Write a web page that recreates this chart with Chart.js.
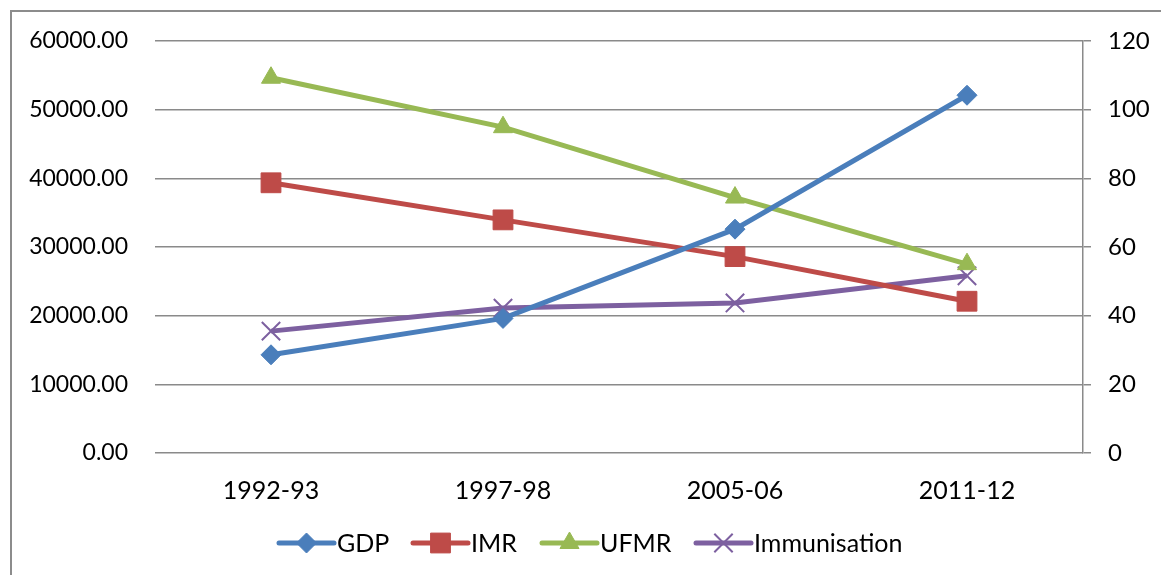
<!DOCTYPE html>
<html>
<head>
<meta charset="utf-8">
<script src="https://cdn.jsdelivr.net/npm/chart.js@4/dist/chart.umd.min.js"></script>
<style>
  html, body { margin: 0; padding: 0; background: #fff; }
  #wrap { width: 1161px; height: 575px; position: relative; }
</style>
</head>
<body>
<div id="wrap"><canvas id="chart" width="1161" height="575"></canvas></div>
<script>
// data
const years = ["1992-93", "1997-98", "2005-06", "2011-12"];
const gdp = [14300, 19600, 32600, 52100];
const imr = [78.7, 67.9, 57.2, 44.2];
const ufmr = [109.3, 94.9, 74.4, 55.0];
const immunisation = [35.5, 42.2, 43.7, 51.6];

const FONT = "Lato, 'Open Sans', sans-serif";
const GRID = "#8a8a8a";

// legend + outer frame, drawn by hand so each entry shows line and marker
const excelLegend = {
    id: "excelLegend",
    afterDraw(chart) {
        const ctx = chart.ctx;
        ctx.save();
        // frame (only left and top edges fall inside the picture)
        ctx.strokeStyle = "#8c8c8c";
        ctx.lineWidth = 2;
        ctx.beginPath();
        ctx.moveTo(11, 575);
        ctx.lineTo(11, 11);
        ctx.lineTo(1161, 11);
        ctx.stroke();

        const y = 543;
        const starts = [279, 413, 542, 696];
        ctx.font = "25px " + FONT;
        ctx.textBaseline = "middle";
        chart.data.datasets.forEach((ds, i) => {
            const x0 = starts[i];
            ctx.strokeStyle = ds.borderColor;
            ctx.lineWidth = 5;
            ctx.lineCap = "round";
            ctx.beginPath();
            ctx.moveTo(x0, y);
            ctx.lineTo(x0 + 55, y);
            ctx.stroke();
            ctx.lineCap = "butt";
            ctx.fillStyle = ds.pointBackgroundColor;
            ctx.strokeStyle = ds.pointBorderColor;
            ctx.lineWidth = ds.pointBorderWidth;
            Chart.helpers.drawPoint(ctx, {
                pointStyle: ds.pointStyle,
                radius: ds.pointRadius,
                borderWidth: ds.pointBorderWidth
            }, x0 + 27.5, y);
            ctx.fillStyle = "#000";
            ctx.fillText(ds.label, x0 + 58, y + 1);
        });
        ctx.restore();
    }
};

function series(label, data, color, style, radius, axis) {
    return {
        label, data,
        yAxisID: axis,
        borderColor: color,
        backgroundColor: color,
        borderWidth: 5,
        pointStyle: style,
        pointRadius: radius,
        pointHoverRadius: radius,
        pointBackgroundColor: color,
        pointBorderColor: color,
        pointBorderWidth: style === "crossRot" ? 2 : 1,
        tension: 0
    };
}

new Chart(document.getElementById("chart"), {
    type: "line",
    data: {
        labels: years,
        datasets: [
            series("GDP", gdp, "#4a7ebb", "rectRot", 10, "y"),
            series("IMR", imr, "#be4b48", "rect", 14, "y1"),
            series("UFMR", ufmr, "#98b954", "triangle", 11, "y1"),
            series("Immunisation", immunisation, "#7d60a0", "crossRot", 13, "y1")
        ]
    },
    options: {
        responsive: false,
        animation: false,
        layout: { padding: { top: 41, left: 0, right: 0, bottom: 0 } },
        plugins: { legend: { display: false }, tooltip: { enabled: false } },
        scales: {
            x: {
                offset: true,
                grid: { display: false },
                border: { display: false },
                ticks: { color: "#000", font: { family: FONT, size: 25 }, padding: 15 },
                afterFit(s) { s.height = 122; }
            },
            y: {
                position: "left",
                min: 0, max: 60000,
                grid: { color: GRID, lineWidth: 1.5, drawTicks: false },
                border: { display: false },
                ticks: {
                    stepSize: 10000,
                    color: "#000",
                    font: { family: FONT, size: 23 },
                    padding: 27,
                    callback: v => v.toFixed(2)
                },
                afterFit(s) { s.width = 155; }
            },
            y1: {
                position: "right",
                min: 0, max: 120,
                grid: { drawOnChartArea: false, color: GRID, lineWidth: 1.5, tickLength: 8 },
                border: { display: true, color: GRID, width: 1.5 },
                ticks: {
                    stepSize: 20,
                    color: "#000",
                    font: { family: FONT, size: 24 },
                    padding: 17
                },
                afterFit(s) { s.width = 78; }
            }
        }
    },
    plugins: [excelLegend]
});
</script>
</body>
</html>
